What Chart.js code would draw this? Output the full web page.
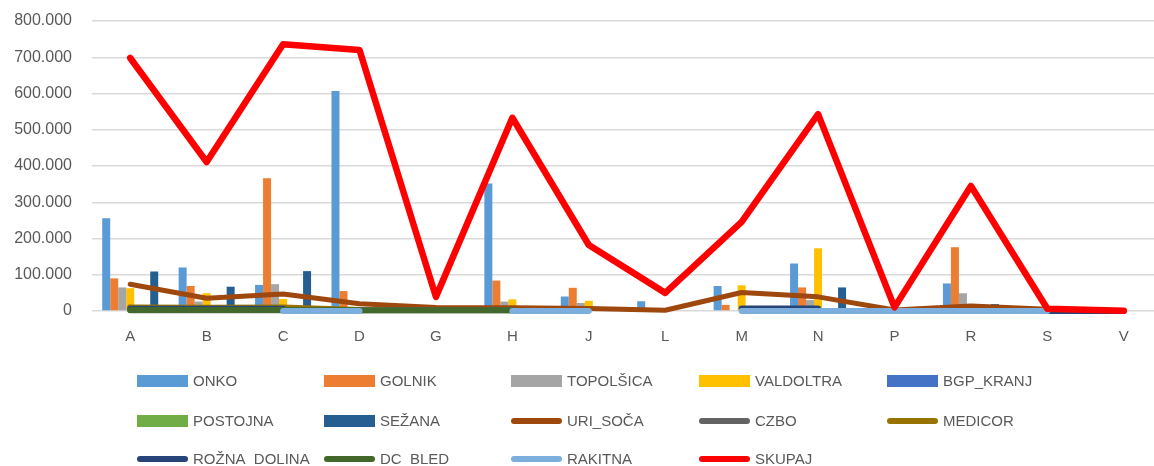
<!DOCTYPE html>
<html>
<head>
<meta charset="utf-8">
<script src="https://cdn.jsdelivr.net/npm/chart.js@4.4.1/dist/chart.umd.min.js"></script>
<style>
  html, body { margin: 0; padding: 0; background: #fff; overflow: hidden; }
  #wrap { width: 1170px; height: 466px; }
</style>
</head>
<body>
<div id="wrap"><canvas id="chart"></canvas></div>
<script>
// ===== DATA =====
const categories = ['A', 'B', 'C', 'D', 'G', 'H', 'J', 'L', 'M', 'N', 'P', 'R', 'S', 'V'];

// bar series
const onko      = [256000, 120000, 72000, 607000, 0, 352000, 40000, 27000, 69000, 131000, 0, 76000, 0, 0];
const golnik    = [90000, 69000, 366000, 55000, 0, 84000, 64000, 0, 17000, 65000, 0, 176000, 0, 0];
const topolsica = [65000, 26000, 74000, 0, 0, 26000, 22000, 0, 0, 30000, 0, 49000, 0, 0];
const valdoltra = [63000, 49000, 33000, 0, 0, 32000, 28000, 0, 71000, 173000, 0, 0, 0, 0];
const bgpKranj  = [2000, 2000, 0, 0, 0, 0, 0, 0, 2000, 3000, 0, 0, 0, 0];
const postojna  = [0, 0, 0, 0, 0, 0, 0, 0, 0, 0, 0, 0, 0, 0];
const sezana    = [109000, 67000, 110000, 0, 0, 0, 0, 0, 12000, 65000, 0, 19000, 0, 0];

// line series (null = no value)
const uriSoca     = [74000, 35000, 47000, 20000, 10000, 9000, 7000, 2000, 51000, 39000, 3000, 14000, 5000, 0];
const czbo        = [2000, 2000, 2000, 2000, 2000, 2000, null, null, null, null, null, null, null, null];
const medicor     = [10000, 9000, 10000, 3000, null, null, null, null, null, null, null, null, null, null];
const roznaDolina = [6000, 6000, 6000, null, null, null, null, null, 7000, 7000, null, null, 0, 0];
const dcBled      = [3000, 3000, 3000, 2000, 2000, 2000, null, null, null, null, null, null, null, null];
const rakitna     = [null, null, 0, 0, null, 0, 0, null, 0, 0, 0, 0, 0, null];
const skupaj      = [698000, 411000, 736000, 720000, 39000, 533000, 182000, 50000, 246000, 543000, 10000, 345000, 6000, 1000];

const yMax = 800000;
const yStep = 100000;

// legend grid
const legendCols = [137, 324, 511, 699, 887];
const legendRows = [381, 421, 459];

const textColor = '#595959';
const fontFamily = '"Liberation Sans", Arial, sans-serif';

Chart.defaults.font.family = fontFamily;
Chart.defaults.font.size = 15;
Chart.defaults.color = textColor;

function fmt(v) {
    return String(v).replace(/\B(?=(\d{3})+(?!\d))/g, '.');
}

function barSet(label, data, color, i) {
    return {
        label: label,
        data: data,
        backgroundColor: color,
        borderWidth: 0,
        order: 100 + i
    };
}

function lineSet(label, data, color, width, i) {
    return {
        type: 'line',
        label: label,
        data: data,
        borderColor: color,
        backgroundColor: color,
        borderWidth: width,
        borderCapStyle: 'round',
        borderJoinStyle: 'round',
        pointRadius: 0,
        tension: 0,
        spanGaps: false,
        clip: false,
        order: 20 - i
    };
}

// ===== LEGEND (fixed grid, like the original) =====
const gridLegend = {
    id: 'gridLegend',
    afterDraw(chart) {
        const ctx = chart.ctx;
        ctx.save();
        ctx.font = '15px ' + fontFamily;
        ctx.textBaseline = 'middle';
        chart.data.datasets.forEach((ds, i) => {
            const x = legendCols[i % 5];
            const y = legendRows[Math.floor(i / 5)];
            if (ds.type === 'line') {
                ctx.strokeStyle = ds.borderColor;
                ctx.lineWidth = 6;
                ctx.lineCap = 'round';
                ctx.beginPath();
                ctx.moveTo(x + 3, y);
                ctx.lineTo(x + 48, y);
                ctx.stroke();
            } else {
                ctx.fillStyle = ds.backgroundColor;
                ctx.fillRect(x, y - 6, 51, 12);
            }
            ctx.fillStyle = textColor;
            ctx.fillText(ds.label, x + 56, y + 1);
        });
        ctx.restore();
    }
};

// ===== CHART =====
const chart = new Chart(document.getElementById('chart'), {
    type: 'bar',
    data: {
        labels: categories,
        datasets: [
            barSet('ONKO', onko, '#5b9bd5', 0),
            barSet('GOLNIK', golnik, '#ed7d31', 1),
            barSet('TOPOLŠICA', topolsica, '#a5a5a5', 2),
            barSet('VALDOLTRA', valdoltra, '#ffc000', 3),
            barSet('BGP_KRANJ', bgpKranj, '#4472c4', 4),
            barSet('POSTOJNA', postojna, '#70ad47', 5),
            barSet('SEŽANA', sezana, '#255e91', 6),
            lineSet('URI_SOČA', uriSoca, '#9e480e', 5, 0),
            lineSet('CZBO', czbo, '#636363', 6, 1),
            lineSet('MEDICOR', medicor, '#997300', 6, 2),
            lineSet('ROŽNA_DOLINA', roznaDolina, '#264478', 6, 3),
            lineSet('DC_BLED', dcBled, '#43682b', 6, 4),
            lineSet('RAKITNA', rakitna, '#7cafdd', 6, 5),
            lineSet('SKUPAJ', skupaj, '#ff0000', 6.5, 6)
        ]
    },
    options: {
        responsive: true,
        maintainAspectRatio: false,
        animation: false,
        layout: { padding: { left: 0, right: 8, top: 21, bottom: 120 } },
        datasets: {
            bar: { categoryPercentage: 0.733, barPercentage: 1.0 }
        },
        plugins: {
            legend: { display: false },
            tooltip: { enabled: false }
        },
        scales: {
            x: {
                grid: { display: false, drawTicks: false },
                border: { display: false },
                ticks: { padding: 17, color: textColor, font: { size: 15 } },
                afterFit: (scale) => { scale.height = 35; }
            },
            y: {
                min: 0,
                max: yMax,
                grid: { color: '#d9d9d9', lineWidth: 1.5, drawTicks: false },
                border: { display: false },
                ticks: {
                    stepSize: yStep,
                    padding: 20,
                    color: textColor,
                    font: { size: 16 },
                    callback: (v) => fmt(v)
                },
                afterFit: (scale) => {
                    scale.width = 92;
                    scale.paddingTop = 9;
                    scale.paddingBottom = 9;
                }
            }
        }
    },
    plugins: [gridLegend]
});
</script>
</body>
</html>
